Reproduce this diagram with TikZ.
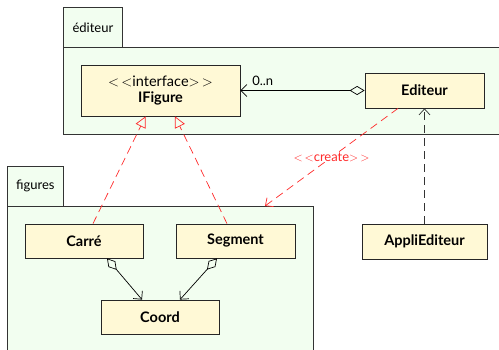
\documentclass[tikz,border=0pt]{standalone}
\usepackage{fontspec}
\setmainfont{Lato}
\usetikzlibrary{arrows.meta,shadows,calc}
\definecolor{pkgfill}{HTML}{F2FEF0}
\definecolor{clsfill}{HTML}{FFF9D6}
\definecolor{umlred}{HTML}{FF2A2A}
\tikzset{
  pkg/.style={draw=black!80, fill=pkgfill, line width=0.8pt, anchor=north west, inner sep=0pt},
  pkglabel/.style={font=\fontsize{13}{15}\selectfont},
  cls/.style={draw=black!85, fill=clsfill, line width=0.8pt, font=\fontsize{14.5}{16.5}\selectfont\bfseries, align=center,
              drop shadow={shadow xshift=1.2pt, shadow yshift=-1.2pt, fill=black!70, opacity=1}},
  realize/.style={umlred, dash pattern=on 8pt off 5pt, line width=0.7pt,
                  -{Triangle[open, length=11pt, width=11pt]}},
  depend/.style={dash pattern=on 8pt off 5pt, line width=0.7pt,
                 -{Straight Barb[length=6pt, width=11pt]}},
  aggreg/.style={line width=0.7pt, {Diamond[open, length=15pt, width=9pt]}-{Straight Barb[length=6pt, width=12pt]}},
}
\begin{document}
\begin{tikzpicture}[x=1pt, y=-1pt, font=\fontsize{13}{15}\selectfont]
\useasboundingbox (0,0) rectangle (499,349);
\clip (0,0) rectangle (499,349);

% package "éditeur"
\node[pkg, minimum width=59pt, minimum height=40pt] (edtab) at (63,7) {};
\node[pkglabel] at (edtab.center) {éditeur};
\node[pkg, minimum width=460pt, minimum height=87pt] (edbody) at (63,47) {};

% package "figures"
\node[pkg, minimum width=56pt, minimum height=40pt] (figtab) at (7,166) {};
\node[pkglabel] at (figtab.center) {figures};
\node[pkg, minimum width=306pt, minimum height=160pt] (figbody) at (7,206) {};

% classes
\node[cls, minimum width=159pt, minimum height=51pt] (ifig) at (160.5,90.5)
  {\mdseries$<\,<$interface$>\,>$\\IFigure};
\node[cls, minimum width=119pt, minimum height=35pt] (editeur) at (424.5,90.5) {Editeur};
\node[cls, minimum width=118pt, minimum height=34pt] (carre) at (84,241) {Carré};
\node[cls, minimum width=119pt, minimum height=34pt] (segment) at (235.5,241) {Segment};
\node[cls, minimum width=118pt, minimum height=34pt] (coord) at (160,317) {Coord};
\node[cls, minimum width=125pt, minimum height=35pt] (appli) at (424.5,241.5) {AppliEditeur};

% connector end points
\coordinate (carreTop) at ($(carre.north)+(9,0)$);
\coordinate (segTop) at ($(segment.north)+(-8.5,0)$);
\coordinate (ifigL) at ($(ifig.south)+(-15,0)$);
\coordinate (ifigR) at ($(ifig.south)+(14.5,0)$);
\coordinate (edBot) at ($(editeur.south)+(-26.5,0)$);
\coordinate (figTop) at ($(figbody.north west)+(258,0)$);
\coordinate (carreBot) at ($(carre.south)+(23,0)$);
\coordinate (segBot) at ($(segment.south)+(-18.5,0)$);
\coordinate (coordL) at ($(coord.north)+(-18,0)$);
\coordinate (coordR) at ($(coord.north)+(20,0)$);

% realizations of IFigure
\draw[realize] (carreTop) -- (ifigL);
\draw[realize] (segTop) -- (ifigR);

% Editeur aggregates IFigure
\draw[aggreg] (editeur.west) -- node[above, pos=0.82, yshift=1pt, pkglabel] {0..n} (ifig.east);

% Editeur creates figures
\draw[umlred, dash pattern=on 8pt off 5pt, line width=0.7pt, -{Straight Barb[length=6pt, width=11pt]}]
  (edBot) -- node[pos=0.5, fill=white, inner sep=0.5pt, pkglabel] {$<\,<$create$>\,>$} (figTop);

% AppliEditeur uses Editeur
\draw[depend, black!80] (appli.north) -- (editeur.south);

% Carré and Segment aggregate Coord
\draw[aggreg] (carreBot) -- (coordL);
\draw[aggreg] (segBot) -- (coordR);
\end{tikzpicture}
\end{document}
